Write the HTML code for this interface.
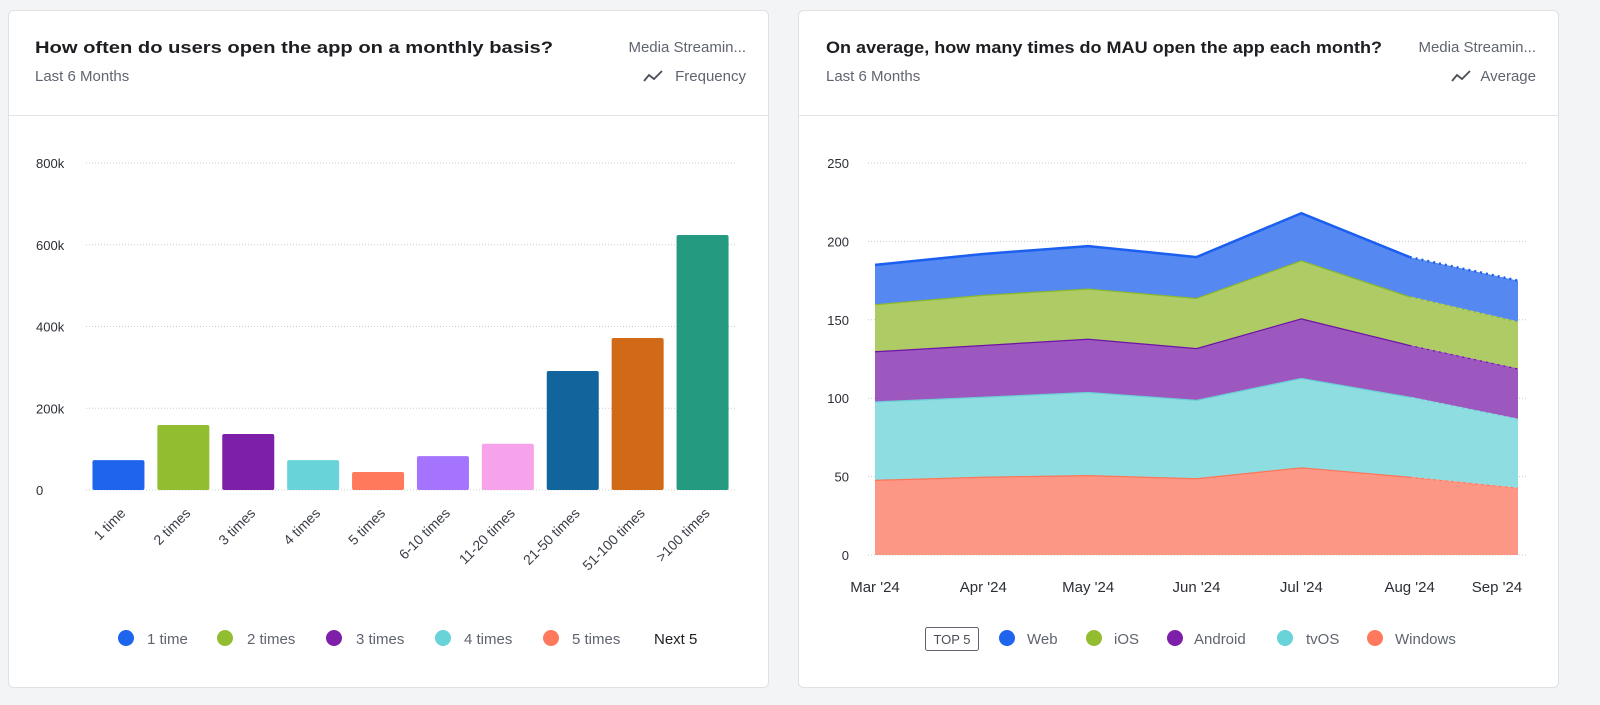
<!DOCTYPE html>
<html><head><meta charset="utf-8"><style>
html,body{margin:0;padding:0;background:#f3f4f6;}
svg{display:block;font-family:"Liberation Sans",sans-serif;}
</style></head><body>
<svg id="root" width="1600" height="705" viewBox="0 0 1600 705" xmlns="http://www.w3.org/2000/svg">
<rect x="0" y="0" width="1600" height="705" fill="#f3f4f6"/>
<g>
  <rect x="8.5" y="10.5" width="760" height="677" rx="5" fill="#fff" stroke="#dfe1e5"/>
  <line x1="9" y1="115.5" x2="768" y2="115.5" stroke="#e3e5e8"/>
  <text x="35" y="53" font-size="17" font-weight="600" fill="#1d1d22" textLength="518" lengthAdjust="spacingAndGlyphs">How often do users open the app on a monthly basis?</text>
  <text x="35" y="81" font-size="15" fill="#5f6470">Last 6 Months</text>
  <text x="746" y="52" font-size="15" fill="#5f6470" text-anchor="end">Media Streamin...</text>
  <g>
    <polyline points="644,81 649,75 654,79 662,71" fill="none" stroke="#4a4e57" stroke-width="1.8"/>
    <text x="746" y="81" font-size="15" fill="#5f6470" text-anchor="end">Frequency</text>
  </g>
  <g id="barchart"></g>
  <g>
    <circle cx="126" cy="638" r="8" fill="#1f64ec"/><text x="147" y="644" font-size="15" fill="#5f6470">1 time</text>
    <circle cx="225" cy="638" r="8" fill="#93bd30"/><text x="247" y="644" font-size="15" fill="#5f6470">2 times</text>
    <circle cx="334" cy="638" r="8" fill="#7e1fa9"/><text x="356" y="644" font-size="15" fill="#5f6470">3 times</text>
    <circle cx="443" cy="638" r="8" fill="#68d3d9"/><text x="464" y="644" font-size="15" fill="#5f6470">4 times</text>
    <circle cx="551" cy="638" r="8" fill="#ff7a5c"/><text x="572" y="644" font-size="15" fill="#5f6470">5 times</text>
    <text x="654" y="644" font-size="15" fill="#1d1d22">Next 5</text>
  </g>
</g>
<g>
  <rect x="798.5" y="10.5" width="760" height="677" rx="5" fill="#fff" stroke="#dfe1e5"/>
  <line x1="799" y1="115.5" x2="1558" y2="115.5" stroke="#e3e5e8"/>
  <text x="826" y="53" font-size="17" font-weight="600" fill="#1d1d22" textLength="556" lengthAdjust="spacingAndGlyphs">On average, how many times do MAU open the app each month?</text>
  <text x="826" y="81" font-size="15" fill="#5f6470">Last 6 Months</text>
  <text x="1536" y="52" font-size="15" fill="#5f6470" text-anchor="end">Media Streamin...</text>
  <g>
    <polyline points="1452,81 1457,75 1462,79 1470,71" fill="none" stroke="#4a4e57" stroke-width="1.8"/>
    <text x="1536" y="81" font-size="15" fill="#5f6470" text-anchor="end">Average</text>
  </g>
  <g id="areachart"></g>
  <g>
    <rect x="925.5" y="627.5" width="53" height="23" rx="2" fill="none" stroke="#5f6470"/>
    <text x="952" y="644" font-size="13" fill="#4a4e57" text-anchor="middle">TOP 5</text>
    <circle cx="1007" cy="638" r="8" fill="#1f64ec"/><text x="1027" y="644" font-size="15" fill="#5f6470">Web</text>
    <circle cx="1094" cy="638" r="8" fill="#93bd30"/><text x="1114" y="644" font-size="15" fill="#5f6470">iOS</text>
    <circle cx="1175" cy="638" r="8" fill="#7e1fa9"/><text x="1194" y="644" font-size="15" fill="#5f6470">Android</text>
    <circle cx="1285" cy="638" r="8" fill="#68d3d9"/><text x="1306" y="644" font-size="15" fill="#5f6470">tvOS</text>
    <circle cx="1375" cy="638" r="8" fill="#ff7a5c"/><text x="1395" y="644" font-size="15" fill="#5f6470">Windows</text>
  </g>
</g>
</svg>
<script>
const barCategories = ["1 time","2 times","3 times","4 times","5 times","6-10 times","11-20 times","21-50 times","51-100 times",">100 times"];
const barValues = [73000,159000,137000,73000,44000,83000,113000,291000,372000,624000];
const barColors = ["#1f64ec","#93bd30","#7e1fa9","#68d3d9","#ff7a5c","#a474ff","#f7a3ec","#12649c","#d06a17","#249a81"];
const barTicks = [0,200000,400000,600000,800000];
const barTickLabels = ["0","200k","400k","600k","800k"];

const areaMonths = ["2024-03-01","2024-04-01","2024-05-01","2024-06-01","2024-07-01","2024-08-01","2024-09-01"];
const areaMonthLabels = ["Mar '24","Apr '24","May '24","Jun '24","Jul '24","Aug '24","Sep '24"];
const seriesWindows = [48,50,51,49,56,50,43];
const seriesTvos = [50,51,53,50,57,51,44];
const seriesAndroid = [32,33,34,33,38,33,32];
const seriesIos = [30,32,32,32,37,31,30];
const seriesWeb = [25,26,27,26,30,25,26];
const areaTicks = [0,50,100,150,200,250];

const NS = "http://www.w3.org/2000/svg";
function mk(tag, attrs, parent){const e=document.createElementNS(NS,tag);for(const k in attrs)e.setAttribute(k,attrs[k]);parent.appendChild(e);return e;}

(function(){
  const g=document.getElementById('barchart');
  const x0=86,x1=735,y0=490,yTop=163,maxV=800000;
  const yS=v=>y0-(v/maxV)*(y0-yTop);
  const band=(x1-x0)/barCategories.length;
  const xS=i=>x0+band*i+band/2;
  barTicks.forEach((t,i)=>{
    const y=yS(t);
    const l=mk('line',{x1:x0,x2:x1,y1:y,y2:y,stroke:'#c9ccd3','stroke-dasharray':'1,2'},g);
    
    
    const tx=mk('text',{x:36,y:y+5,'font-size':13,fill:'#2b2e35'},g);
    tx.textContent=barTickLabels[i];
    
    
  });
  barCategories.forEach((c,i)=>{
    const w=52,cx=xS(i),top=yS(barValues[i]);
    const r=mk('rect',{x:cx-w/2,y:top,width:w,height:y0-top,fill:barColors[i],rx:2},g);
    
    
    const t=mk('text',{x:cx+8,y:514,'font-size':14,fill:'#3a3e46','text-anchor':'end',transform:`rotate(-45 ${cx+8} 514)`},g);
    t.textContent=c;
    
    
  });
})();

(function(){
  const g=document.getElementById('areachart');
  const x0=875,x1=1518,y0=555,yTop=163,maxV=250;
  const days=areaMonths.map(d=>Date.parse(d)/86400000);
  const dMin=days[0],dMax=days[days.length-1];
  const xS=i=>x0+(days[i]-dMin)/(dMax-dMin)*(x1-x0);
  const yS=v=>y0-(v/maxV)*(y0-yTop);
  areaTicks.forEach(t=>{
    const y=yS(t);
    const l=mk('line',{x1:868,x2:1526,y1:y,y2:y,stroke:'#c9ccd3','stroke-dasharray':'1,2'},g);
    
    
    const tx=mk('text',{x:849,y:y+5,'font-size':13,fill:'#2b2e35','text-anchor':'end'},g);
    tx.textContent=t;
    
    
  });
  const series=[
    {name:'windows',vals:seriesWindows,fill:'#fc9785',line:'#ff7558'},
    {name:'tvos',vals:seriesTvos,fill:'#8edde0',line:'#6bd0d6'},
    {name:'android',vals:seriesAndroid,fill:'#9c58be',line:'#6e12a8'},
    {name:'ios',vals:seriesIos,fill:'#aecb65',line:'#8cba2b'},
    {name:'web',vals:seriesWeb,fill:'#5588f0',line:'#1a5ff0'}
  ];
  let base=areaMonths.map(()=>0);
  const n=areaMonths.length;
  series.forEach(s=>{
    const top=base.map((b,i)=>b+s.vals[i]);
    let d='';
    for(let i=0;i<n;i++)d+=(i?'L':'M')+xS(i)+','+yS(top[i]);
    for(let i=n-1;i>=0;i--)d+='L'+xS(i)+','+yS(base[i]);
    const p=mk('path',{d:d+'Z',fill:s.fill},g);
    
    
    let ld='';
    for(let i=0;i<n-1;i++)ld+=(i?'L':'M')+xS(i)+','+yS(top[i]);
    const l=mk('path',{d:ld,fill:'none',stroke:s.line,'stroke-width':2.5},g);
    
    
    const l2=mk('path',{d:'M'+xS(n-2)+','+yS(top[n-2])+'L'+xS(n-1)+','+yS(top[n-1]),fill:'none',stroke:s.line,'stroke-width':2.5,'stroke-dasharray':'2,4'},g);
    
    
    base=top;
  });
  areaMonthLabels.forEach((m,i)=>{
    let x=xS(i);
    if(i===n-1)x=Math.min(x,1497);
    const t=mk('text',{x:x,y:592,'font-size':15,fill:'#2b2e35','text-anchor':'middle'},g);
    t.textContent=m;
    
    
  });
})();
</script>
</body></html>
